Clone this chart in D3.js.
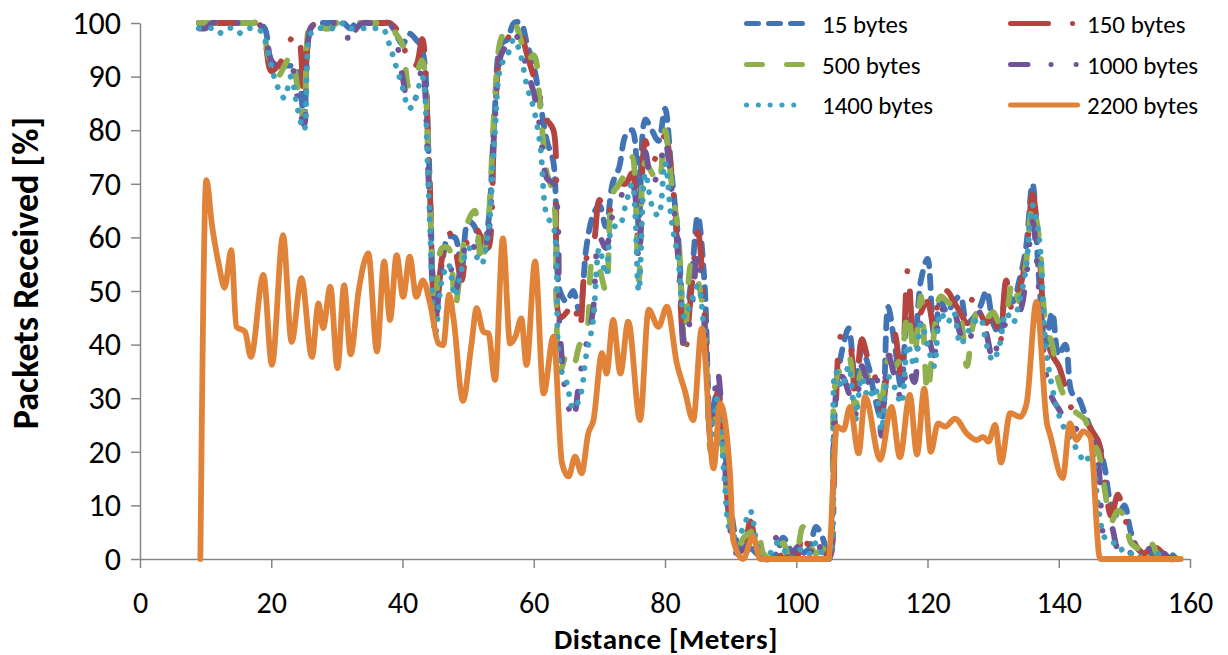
<!DOCTYPE html>
<html>
<head>
<meta charset="utf-8">
<script src="https://cdn.jsdelivr.net/npm/d3@7/dist/d3.min.js"></script>
<style>
  html, body { margin: 0; padding: 0; background: #fff; }
  svg { display: block; }
</style>
</head>
<body>
<svg id="chart" width="1228" height="655"></svg>
<script>
// Distance grid (meters) shared by the five packet-size series below
const distance = [
  9,10,11,12,13,14,15,16,17,18,
  19,20,21,22,23,24,25,26,27,28,
  29,30,31,32,33,34,35,36,37,38,
  39,40,41,42,43,44,45,46,47,48,
  49,50,51,52,53,54,55,56,57,58,
  59,60,61,62,63,64,65,66,67,68,
  69,70,71,72,73,74,75,76,77,78,
  79,80,81,82,83,84,85,86,87,88,
  89,90,91,92,93,94,95,96,97,98,
  99,100,101,102,103,104,105,106,107,108,
  109,110,111,112,113,114,115,116,117,118,
  119,120,121,122,123,124,125,126,127,128,
  129,130,131,132,133,134,135,136,137,138,
  139,140,141,142,143,144,145,146,147,148,
  149,150,151,152,153,154,155,156,157,158
];

// Packets received [%] per packet size
const bytes15 = [
  100,100,100,100,100,100,100,100,100,100,
  99,93,92,92,92,91,82,99,100,100,
  100,100,100,99,100,100,100,100,100,100,
  98,96,98,97,95,75,47,55,60,60,
  54,63,62,57,62,82,96,97,100,100,
  96,92,85,78,74,50,48,50,46,58,
  64,66,62,70,73,79,80,62,82,80,
  78,84,72,60,44,52,64,52,25,32,
  22,10,3,1,2,1,0,0,1,4,
  2,0,1,2,6,4,0,30,39,43,
  33,39,36,30,26,47,40,32,45,42,
  52,56,42,48,46,48,49,44,45,47,
  50,44,42,50,48,52,58,70,52,40,
  46,38,40,31,30,27,24,22,17,10,
  8,10,5,2,1,1,1,1,1,0
];

const bytes150 = [
  100,100,100,100,100,100,100,100,100,100,
  97,91,92,94,97,98,86,99,100,100,
  100,100,100,100,100,100,100,100,100,100,
  99,97,92,92,97,75,44,56,61,58,
  52,60,62,60,58,80,95,97,99,98,
  94,90,86,82,80,45,46,48,43,56,
  58,67,64,66,70,70,72,58,78,74,
  76,79,72,56,38,50,61,46,22,31,
  20,6,3,2,7,2,0,1,2,0,
  1,0,5,2,1,2,0,28,42,41,
  30,41,37,34,28,36,42,34,54,40,
  46,48,43,50,50,48,46,44,49,46,
  44,46,40,52,46,50,56,68,58,42,
  38,36,32,28,27,26,24,22,14,8,
  12,8,4,2,1,2,2,1,1,0
];

const bytes500 = [
  100,100,100,100,100,100,100,100,100,100,
  97,92,90,92,94,88,82,100,100,99,
  99,100,100,100,100,100,100,100,100,100,
  98,96,88,90,93,72,46,58,58,47,
  56,63,65,55,62,84,97,99,100,97,
  93,94,84,72,68,35,38,36,40,42,
  56,54,50,68,70,72,75,52,74,72,
  70,80,70,61,40,55,52,44,20,28,
  18,6,2,4,5,6,1,0,1,3,
  0,1,6,3,1,2,0,33,36,38,
  28,35,34,33,30,37,36,38,46,38,
  49,31,42,49,48,47,45,36,44,47,
  45,46,44,46,52,48,55,66,60,44,
  40,33,30,28,27,26,22,20,13,7,
  9,8,3,2,1,3,1,0,1,0
];

const bytes1000 = [
  99,99,100,100,100,100,100,100,100,100,
  98,93,92,92,92,86,81,99,100,100,
  100,100,100,96,99,100,100,100,100,100,
  97,90,85,86,92,70,43,54,56,50,
  55,60,58,57,60,80,94,96,98,96,
  91,87,80,71,70,42,30,26,34,40,
  46,60,58,64,66,70,70,56,76,70,
  72,78,69,58,40,46,57,44,24,35,
  20,5,1,2,3,1,0,1,4,2,
  0,2,3,1,4,1,0,30,34,31,
  27,36,33,35,23,38,34,30,36,33,
  44,42,38,47,45,46,42,40,43,46,
  42,37,42,44,45,46,52,63,50,35,
  30,28,26,25,24,24,23,18,4,6,
  2,3,1,0,1,2,0,1,0,0
];

const bytes1400 = [
  99,99,99,98,99,99,98,99,99,99,
  97,92,88,86,90,84,80,98,99,99,
  99,99,100,99,99,99,99,99,99,96,
  92,88,84,86,90,68,42,52,55,49,
  54,58,57,55,60,78,92,94,97,94,
  88,84,77,64,62,36,33,28,30,38,
  44,58,53,62,62,66,70,50,72,66,
  64,74,63,56,45,48,51,42,22,30,
  16,5,4,6,9,3,0,1,3,2,
  0,1,2,1,3,1,0,35,32,36,
  26,34,30,32,24,34,32,29,40,36,
  44,40,36,46,44,46,40,42,44,45,
  40,37,40,46,44,48,54,66,60,40,
  32,27,24,22,20,18,20,10,4,3,
  3,1,1,0,1,0,1,0,0,0
];

// 2200-byte packets, recorded on its own distance steps
const distance2200 = [
  9.2,10.1,11,12,12.9,13.9,14.7,16,16.9,18.8,20.1,21.8,23.1,24.6,26.2,27.2,27.9,29,30.1,31.1,
  32.1,33.3,34.8,36.1,37.2,38.1,39.1,40.1,41.1,42.1,43.1,44.2,45.5,46.2,47.1,47.8,49.2,50.5,51.3,52.3,
  53.1,54.1,55.3,56.4,57.2,58.1,58.9,60.2,61.5,63,64.3,65.3,66.3,67.3,68.3,69.1,70.4,71.1,72.1,73.2,
  74.4,76.2,77.5,79,80.3,81.8,83,84.3,85.6,87.4,88.4,89.9,90.4,91.9,93.4,94.5,104.9,106.2,107.2,108.2,
  109.5,110.5,112.8,114.5,115.8,117.3,118.4,119.5,120.5,121.6,122.7,124.2,126,127.5,128.5,129.3,130.3,131.2,132.6,134.1,
  135.1,136.6,138.2,138.7,140.6,141.7,142.7,143.7,144.8,146.3,158.6
];
const bytes2200 = [
  0,70.7,62,55,50.6,57.6,43.3,42.4,37.7,53,36.2,60.4,40.5,52.4,37.7,47.7,43.1,50.8,35.6,51.1,
  38.2,49.9,57,38.7,55.5,44.6,56.7,48.9,56.4,48.9,52,47.7,40.2,39.9,49.3,44.6,29.5,40,46.8,42.4,
  42.1,33.4,59.8,40.2,41.5,44.9,36.2,55.5,30.9,41.5,17.9,15.4,19.1,16,23.4,25.9,38.4,34.6,44.6,34.6,
  44.3,25.9,46.5,43.3,47.1,36.5,31.5,25.9,43,16.9,29,16,3.5,0,4.2,0,0,24.7,24.1,28.4,
  19.7,30.3,18.5,28.4,19,30.6,19.5,31.8,20,25.3,24.7,26.2,23.4,22.2,22.8,21.9,25,18,27.2,26.5,
  29,48,25.3,23.1,15.1,25.3,22.2,23.8,22.8,0,0
];

const seriesNames = ["15 bytes", "150 bytes", "500 bytes", "1000 bytes", "1400 bytes", "2200 bytes"];
const xTicks = [0, 20, 40, 60, 80, 100, 120, 140, 160];
const yTicks = [0, 10, 20, 30, 40, 50, 60, 70, 80, 90, 100];

// Line styles: colour and dash pattern for each packet size
const styles = [
  { color: "#4273B4", dash: "12,10" },
  { color: "#B44440", dash: "38,24,0.1,24" },
  { color: "#8FB04C", dash: "16,24" },
  { color: "#705498", dash: "17.5,23,0.1,25,0.1,23" },
  { color: "#3CA0BE", dash: "0.1,11.7" },
  { color: "#E08338", dash: null }
];

const svg = d3.select("#chart");
const x = d3.scaleLinear().domain([0, 160]).range([140, 1190]);
const y = d3.scaleLinear().domain([0, 100]).range([559, 23]);
const font = "Carlito, Calibri, Lato, sans-serif";

const series = [
  { name: seriesNames[0], xs: distance, ys: bytes15 },
  { name: seriesNames[1], xs: distance, ys: bytes150 },
  { name: seriesNames[2], xs: distance, ys: bytes500 },
  { name: seriesNames[3], xs: distance, ys: bytes1000 },
  { name: seriesNames[4], xs: distance, ys: bytes1400 },
  { name: seriesNames[5], xs: distance2200, ys: bytes2200 }
];

// Axes
const xAxis = svg.append("g")
  .attr("transform", `translate(0,${y(0)})`)
  .call(d3.axisBottom(x).tickValues(xTicks).tickSize(9).tickSizeOuter(0).tickPadding(24));
const yAxis = svg.append("g")
  .attr("transform", `translate(${x(0)},0)`)
  .call(d3.axisLeft(y).tickValues(yTicks).tickSize(9).tickSizeOuter(0).tickPadding(10));

[xAxis, yAxis].forEach(g => {
  g.select(".domain").attr("stroke", "#868686").attr("stroke-width", 1.5);
  g.selectAll(".tick line").attr("stroke", "#868686").attr("stroke-width", 1.5);
  g.selectAll(".tick text").attr("font-family", font).attr("fill", "#000");
});
xAxis.selectAll(".tick text").attr("font-size", 30);
yAxis.selectAll(".tick text").attr("font-size", 32);

// Series lines (smoothed); the 2200-byte trace uses a monotone curve so its
// flat zero stretches stay on the axis
const smooth = d3.line()
  .x(d => x(d[0]))
  .y(d => y(d[1]))
  .curve(d3.curveCatmullRom.alpha(0.5));
const monotone = d3.line()
  .x(d => x(d[0]))
  .y(d => y(d[1]))
  .curve(d3.curveMonotoneX);

series.forEach((s, i) => {
  const pts = s.xs.map((v, k) => [v, s.ys[k]]);
  svg.append("path")
    .datum(pts)
    .attr("d", i === 5 ? monotone : smooth)
    .attr("fill", "none")
    .attr("stroke", styles[i].color)
    .attr("stroke-width", 5.8)
    .attr("stroke-linecap", "round")
    .attr("stroke-linejoin", "round")
    .attr("stroke-dasharray", styles[i].dash);
});

// Axis titles
svg.append("text")
  .attr("x", 666).attr("y", 648.5)
  .attr("text-anchor", "middle")
  .attr("font-family", font).attr("font-weight", "bold").attr("font-size", 29)
  .attr("letter-spacing", 0.6)
  .text("Distance [Meters]");
svg.append("text")
  .attr("transform", "translate(38,273) rotate(-90)")
  .attr("text-anchor", "middle")
  .attr("font-family", font).attr("font-weight", "bold").attr("font-size", 36)
  .text("Packets Received [%]");

// Legend: two columns, three rows
const legendCols = [
  { x1: 746.5, x2: 803.5, tx: 822 },
  { x1: 1010.5, x2: 1077.5, tx: 1087 }
];
const legendRows = [23.5, 64.5, 105];
const legendFont = 25;
const legend = svg.append("g");
seriesNames.forEach((name, i) => {
  const col = legendCols[i % 2];
  const ry = legendRows[Math.floor(i / 2)];
  legend.append("line")
    .attr("x1", col.x1).attr("x2", col.x2)
    .attr("y1", ry).attr("y2", ry)
    .attr("stroke", styles[i].color)
    .attr("stroke-width", 5)
    .attr("stroke-linecap", "round")
    .attr("stroke-dasharray", styles[i].dash);
  legend.append("text")
    .attr("x", col.tx).attr("y", ry + legendFont * 0.36)
    .attr("font-family", font).attr("font-size", legendFont)
    .text(name);
});
</script>
</body>
</html>
